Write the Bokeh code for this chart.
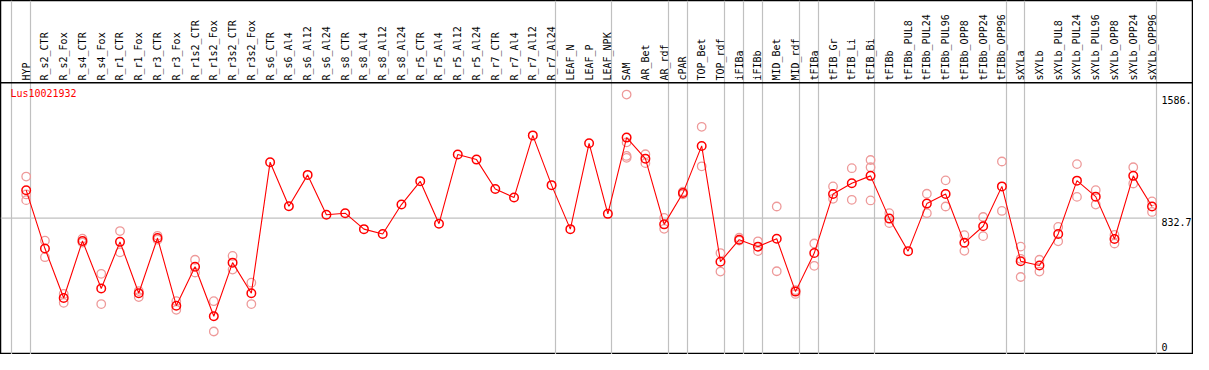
import numpy as np
from math import pi
from bokeh.plotting import figure
from bokeh.models import ColumnDataSource, Range1d, FixedTicker, Span, Label
from bokeh.core.properties import value
from bokeh.embed import file_html
from bokeh.resources import INLINE

gene = "Lus10021932"

categories = [
    "HYP", "R_s2_CTR", "R_s2_Fox", "R_s4_CTR", "R_s4_Fox", "R_r1_CTR", "R_r1_Fox",
    "R_r3_CTR", "R_r3_Fox", "R_r1s2_CTR", "R_r1s2_Fox", "R_r3s2_CTR", "R_r3s2_Fox",
    "R_s6_CTR", "R_s6_Al4", "R_s6_Al12", "R_s6_Al24", "R_s8_CTR", "R_s8_Al4",
    "R_s8_Al12", "R_s8_Al24", "R_r5_CTR", "R_r5_Al4", "R_r5_Al12", "R_r5_Al24",
    "R_r7_CTR", "R_r7_Al4", "R_r7_Al12", "R_r7_Al24", "LEAF_N", "LEAF_P", "LEAF_NPK",
    "SAM", "AR_Bet", "AR_rdf", "cPAR", "TOP_Bet", "TOP_rdf", "iFIBa", "iFIBb",
    "MID_Bet", "MID_rdf", "tFIBa", "tFIB_Gr", "tFIB_Li", "tFIB_Bi", "tFIBb",
    "tFIBb_PUL8", "tFIBb_PUL24", "tFIBb_PUL96", "tFIBb_OPP8", "tFIBb_OPP24",
    "tFIBb_OPP96", "sXYLa", "sXYLb", "sXYLb_PUL8", "sXYLb_PUL24", "sXYLb_PUL96",
    "sXYLb_OPP8", "sXYLb_OPP24", "sXYLb_OPP96",
]

means = [
    1004.6, 645.6, 341.3, 692.7, 400.2, 686.8, 370.8, 710.3, 294.3, 533.8, 229.5,
    559.1, 370.8, 1177.0, 906.3, 1098.7, 853.3, 863.3, 765.1, 735.6, 916.3, 1059.3,
    798.6, 1224.1, 1192.9, 1012.2, 959.3, 1341.8, 1035.8, 765.1, 1292.9, 859.2,
    1328.2, 1198.8, 794.5, 986.9, 1277.0, 565.0, 700.3, 657.4, 706.2, 380.8, 617.9,
    981.0, 1047.5, 1092.8, 829.8, 629.7, 922.2, 981.0, 680.9, 782.7, 1028.1, 567.9,
    541.4, 735.6, 1063.4, 965.1, 704.4, 1092.8, 904.5,
]

replicates = [
    [1088.7, 978.7, 943.4], [694.4, 592.6], [366.6, 311.9], [706.2, 682.7],
    [490.2, 304.3], [753.3, 622.0], [384.3, 347.2], [723.9, 700.3], [321.9, 268.9],
    [576.7, 498.5], [321.9, 135.4], [600.3, 516.1], [435.5, 304.3],
    [], [], [], [], [], [], [], [], [], [], [], [], [], [], [], [], [], [], [],
    [1593.1, 1298.8, 1215.3, 1203.5], [1225.8, 1171.1], [833.9, 766.8], [995.0, 979.0],
    [1394.7, 1151.7], [617.9, 504.3], [712.1, 694.4], [690.3, 629.7], [904.5, 506.1],
    [390.2, 366.6], [676.8, 539.7], [1028.1, 951.6], [1139.9, 945.7],
    [1190.5, 1145.8, 941.6], [863.3, 802.1], [], [982.8, 863.3], [1065.2, 904.5],
    [728.0, 631.5], [839.8, 722.1], [1181.1, 876.9], [657.4, 582.6, 470.8],
    [576.7, 504.3], [778.6, 690.3], [1165.2, 963.4], [1004.6, 916.3], [729.7, 676.8],
    [1145.8, 1045.8], [935.7, 871.0],
]

# index of the last sample in each group (grey separators follow these)
group_ends = [-1, 0, 28, 31, 34, 35, 37, 38, 39, 41, 42, 45, 52, 53, 60]

y_tick_values = [1586.0, 832.7, 0.0]
y_tick_labels = ["1586.", "832.7", "0"]

x_idx = list(range(len(categories)))
scale_top = 1.05 * y_tick_values[0]

rep_x, rep_y = [], []
for i, reps in enumerate(replicates):
    for r in reps:
        rep_x.append(i)
        rep_y.append(r)

W, H = 1193, 354
p = figure(width=W, height=H, output_backend="svg", toolbar_location=None,
           x_range=Range1d(-26 / 19, (1208 - 26) / 19),
           y_range=Range1d(-6, 2171.5),
           x_axis_location=None, y_axis_location=None,
           min_border=0, min_border_left=0, min_border_right=0,
           min_border_top=0, min_border_bottom=0,
           background_fill_color="white", border_fill_color="white")
p.outline_line_color = "black"
p.outline_line_width = 1.5

p.ygrid.grid_line_color = None
p.xgrid.ticker = FixedTicker(ticks=[g + 0.22 for g in group_ends])
p.xgrid.grid_line_color = "#c0c0c0"
p.xgrid.grid_line_width = 1.2

# header separator
p.add_layout(Span(location=scale_top, dimension="width", line_color="black", line_width=1.5))

# mid-scale reference line
p.segment(x0=[-26 / 19], y0=[y_tick_values[1]], x1=[group_ends[-1] + 0.22], y1=[y_tick_values[1]],
          line_color="#c0c0c0", line_width=1.2)

# category labels
src_lab = ColumnDataSource(dict(x=x_idx, y=[scale_top + 14] * len(categories), t=categories))
p.text(x="x", y="y", text="t", source=src_lab, angle=pi / 2,
       text_align="left", text_baseline="middle",
       text_font=value("DejaVu Sans Mono"), text_font_size=value("10px"),
       text_color="black")

# replicate points
p.scatter(rep_x, rep_y, marker="circle", size=8.5, fill_color=None,
          line_color="#ee9a9a", line_width=1.3)

# mean line and points
p.line(x_idx, means, line_color="red", line_width=1.1)
p.scatter(x_idx, means, marker="circle", size=8.5, fill_color=None,
          line_color="red", line_width=1.5)

# gene label
p.add_layout(Label(x=-0.84, y=1601, text=gene, text_color="red",
                   text_font="DejaVu Sans Mono", text_font_size="10px",
                   text_baseline="middle", text_align="left"))

# right value labels
p.text(x=[60.5] * 2, y=y_tick_values[:2], text=y_tick_labels[:2],
       text_align="left", text_baseline="top",
       text_font=value("DejaVu Sans Mono"), text_font_size=value("10px"),
       text_color="black")
p.text(x=[60.5], y=y_tick_values[2:], text=y_tick_labels[2:],
       text_align="left", text_baseline="bottom", y_offset=-3,
       text_font=value("DejaVu Sans Mono"), text_font_size=value("10px"),
       text_color="black")

open("out.html", "w").write(file_html(p, INLINE))
